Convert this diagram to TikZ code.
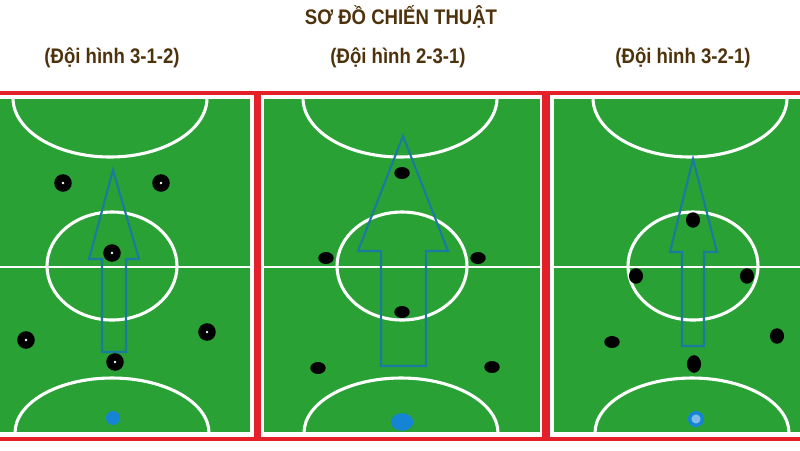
\documentclass[tikz,border=0pt]{standalone}
\usepackage{fontspec}
\setmainfont{Liberation Sans}[FakeStretch=0.88]
\usepackage{xcolor}
\usetikzlibrary{shapes.geometric}

\definecolor{pitchgreen}{RGB}{41,161,52}
\definecolor{framered}{RGB}{228,32,42}
\definecolor{keeperblue}{RGB}{22,132,212}
\definecolor{arrowteal}{RGB}{28,122,160}
\definecolor{titlebrown}{RGB}{78,50,12}

\tikzstyle{heading} = [font=\bfseries\fontsize{15}{18}\selectfont, text=titlebrown, inner sep=0pt]
\tikzstyle{field} = [fill=pitchgreen]
\tikzstyle{border} = [draw=white, line width=2.1pt]
\tikzstyle{marking} = [draw=white, line width=2.2pt]
\tikzstyle{frame} = [draw=framered, line width=2.2pt]
\tikzstyle{ringplayer} = [circle, fill=black, minimum size=12.5pt, inner sep=0pt, path picture={\fill[white] (path picture bounding box.center) circle (0.9pt);}]
\tikzstyle{player} = [ellipse, fill=black, minimum width=11pt, minimum height=8.5pt, inner sep=0pt]
\tikzstyle{tallplayer} = [ellipse, fill=black, minimum width=10pt, minimum height=11pt, inner sep=0pt]
\tikzstyle{keeper} = [circle, fill=keeperblue, minimum size=10pt, inner sep=0pt]
\tikzstyle{blockarrow} = [draw=arrowteal, line width=1.5pt, line join=miter]

\begin{document}
\begin{tikzpicture}[x=0.025cm, y=-0.025cm]
                \useasboundingbox (0,0) rectangle (800,450);
                \clip (0,0) rectangle (800,450);

% ---------------------------------------------
% Titles
% ---------------------------------------------
                \node (title) [heading] at (401,17) {SƠ ĐỒ CHIẾN THUẬT};
                \node (name1) [heading] at (112,58) {(Đội hình 3-1-2)};
                \node (name2) [heading] at (398,58) {(Đội hình 2-3-1)};
                \node (name3) [heading] at (683,58) {(Đội hình 3-2-1)};

% ---------------------------------------------
% Left pitch
% ---------------------------------------------
                \begin{scope}
                \clip (-27,98) rectangle (251,433);
                \fill [field] (-27,98) rectangle (251,433);
                \draw [marking, line width=1.7pt] (-27,267) -- (251,267);
                \draw [marking] (112,266) ellipse [x radius=65, y radius=54];
                \draw [marking] (110,98) ellipse [x radius=97, y radius=59];
                \draw [marking] (112,433) ellipse [x radius=97, y radius=55];
                \end{scope}
                \draw [border] (-27,98) rectangle (251,433);

% ---------------------------------------------
% Middle pitch
% ---------------------------------------------
                \begin{scope}
                \clip (263,98) rectangle (541,433);
                \fill [field] (263,98) rectangle (541,433);
                \draw [marking, line width=1.7pt] (263,267) -- (541,267);
                \draw [marking] (402,266) ellipse [x radius=65, y radius=54];
                \draw [marking] (400,98) ellipse [x radius=97, y radius=59];
                \draw [marking] (401,433) ellipse [x radius=97, y radius=55];
                \end{scope}
                \draw [border] (263,98) rectangle (541,433);

% ---------------------------------------------
% Right pitch
% ---------------------------------------------
                \begin{scope}
                \clip (553,98) rectangle (832,433);
                \fill [field] (553,98) rectangle (832,433);
                \draw [marking, line width=1.7pt] (553,267) -- (832,267);
                \draw [marking] (693,266) ellipse [x radius=65, y radius=54];
                \draw [marking] (690,98) ellipse [x radius=97, y radius=59];
                \draw [marking] (692,433) ellipse [x radius=97, y radius=55];
                \end{scope}
                \draw [border] (553,98) rectangle (832,433);

% ---------------------------------------------
% Red frame
% ---------------------------------------------
                \draw [frame] (0,93) -- (800,93);
                \draw [frame] (0,439) -- (800,439);
                \draw [frame, line width=5pt] (257.5,93) -- (257.5,439);
                \draw [frame, line width=5.5pt] (546,93) -- (546,439);

% ---------------------------------------------
% Arrows
% ---------------------------------------------
                \draw [blockarrow] (102,352) -- (102,259) -- (89,259) -- (113,170) -- (139,259) -- (126,259) -- (126,352) -- cycle;
                \draw [blockarrow] (381,366) -- (381,251) -- (358,251) -- (403,136) -- (448,251) -- (426,251) -- (426,366) -- cycle;
                \draw [blockarrow] (682,346) -- (682,252) -- (670,252) -- (693,159) -- (717,252) -- (704,252) -- (704,346) -- cycle;

% ---------------------------------------------
% Players (3-1-2)
% ---------------------------------------------
                \node (p1_1) [ringplayer] at (63,183) {};
                \node (p1_2) [ringplayer] at (161,183) {};
                \node (p1_3) [ringplayer] at (112,253) {};
                \node (p1_4) [ringplayer] at (26,340) {};
                \node (p1_5) [ringplayer] at (207,332) {};
                \node (p1_6) [ringplayer] at (115,362) {};
                \node (gk1) [keeper] at (113,418) {};

% ---------------------------------------------
% Players (2-3-1)
% ---------------------------------------------
                \node (p2_1) [player] at (402,173) {};
                \node (p2_2) [player] at (326,258) {};
                \node (p2_3) [player] at (478,258) {};
                \node (p2_4) [player] at (402,312) {};
                \node (p2_5) [player] at (318,368) {};
                \node (p2_6) [player] at (492,367) {};
                \node (gk2) [keeper, ellipse, minimum width=16pt, minimum height=12.5pt] at (402,422) {};

% ---------------------------------------------
% Players (3-2-1)
% ---------------------------------------------
                \node (p3_1) [tallplayer] at (693,220) {};
                \node (p3_2) [tallplayer] at (636,276) {};
                \node (p3_3) [tallplayer] at (747,276) {};
                \node (p3_4) [player] at (612,342) {};
                \node (p3_5) [tallplayer] at (777,336) {};
                \node (p3_6) [tallplayer, minimum height=12.5pt] at (694,364) {};
                \node (gk3) [keeper, fill=keeperblue!55, draw=keeperblue, line width=2.5pt, minimum size=9pt] at (696,419) {};

            \end{tikzpicture}
\end{document}
